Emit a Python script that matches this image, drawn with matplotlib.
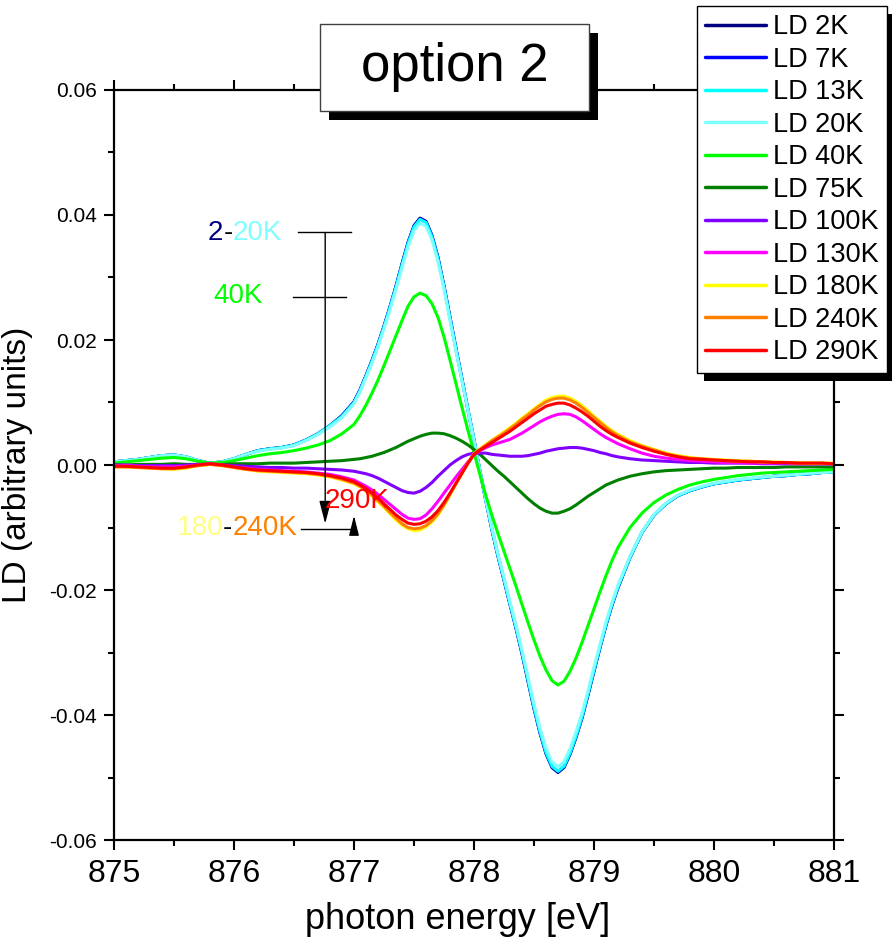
import numpy as np
import matplotlib
matplotlib.use("Agg")
import matplotlib.pyplot as plt
from matplotlib.patches import Rectangle

plt.rcParams['font.family'] = ['Liberation Sans', 'DejaVu Sans']

# ---------------- data ----------------
# photon energy [eV]: 0.1 eV steps in the tails, 0.05 eV steps across the resonance
energy = np.round(np.concatenate([np.arange(875.0, 876.95, 0.1),
                                  np.arange(877.0, 879.225, 0.05),
                                  np.arange(879.3, 881.05, 0.1)]), 2)

LD_2K = [0.0005, 0.0007, 0.0009, 0.0012, 0.0015, 0.0016, 0.0013, 0.0007, 0.0003, 0.0005,
         0.0010, 0.0017, 0.0023, 0.0026, 0.0028, 0.0032, 0.0040, 0.0050, 0.0063, 0.0079,
         0.0101, 0.0120, 0.0143, 0.0167, 0.0193, 0.0222, 0.0253, 0.0286, 0.0322, 0.0356,
         0.0383, 0.0395, 0.0390, 0.0367, 0.0332, 0.0286, 0.0236, 0.0186, 0.0137, 0.0088,
         0.0040, -0.0010, -0.0058, -0.0104, -0.0146, -0.0184, -0.0223, -0.0261, -0.0302, -0.0346,
         -0.0390, -0.0429, -0.0462, -0.0484, -0.0492, -0.0484, -0.0463, -0.0436, -0.0405, -0.0368,
         -0.0330, -0.0292, -0.0256, -0.0224, -0.0196,
         -0.0148, -0.0108, -0.0080, -0.0062, -0.0049, -0.0041, -0.0035, -0.0030, -0.0027, -0.0024,
         -0.0022, -0.0020, -0.0018, -0.0017, -0.0015, -0.0014, -0.0012, -0.0011]
LD_7K = [0.0005, 0.0007, 0.0009, 0.0012, 0.0015, 0.0016, 0.0013, 0.0007, 0.0003, 0.0005,
         0.0010, 0.0017, 0.0023, 0.0026, 0.0028, 0.0032, 0.0040, 0.0050, 0.0063, 0.0079,
         0.0101, 0.0120, 0.0143, 0.0167, 0.0193, 0.0222, 0.0253, 0.0286, 0.0321, 0.0355,
         0.0382, 0.0394, 0.0389, 0.0366, 0.0331, 0.0286, 0.0236, 0.0186, 0.0137, 0.0088,
         0.0040, -0.0010, -0.0058, -0.0104, -0.0146, -0.0184, -0.0223, -0.0261, -0.0301, -0.0345,
         -0.0389, -0.0428, -0.0461, -0.0483, -0.0491, -0.0483, -0.0462, -0.0435, -0.0404, -0.0367,
         -0.0329, -0.0292, -0.0256, -0.0224, -0.0196,
         -0.0148, -0.0108, -0.0080, -0.0062, -0.0049, -0.0041, -0.0035, -0.0030, -0.0027, -0.0024,
         -0.0022, -0.0020, -0.0018, -0.0017, -0.0015, -0.0014, -0.0012, -0.0011]
LD_13K = [0.0005, 0.0007, 0.0009, 0.0012, 0.0015, 0.0016, 0.0013, 0.0007, 0.0003, 0.0005,
          0.0010, 0.0017, 0.0023, 0.0026, 0.0028, 0.0032, 0.0040, 0.0050, 0.0063, 0.0078,
          0.0100, 0.0119, 0.0142, 0.0166, 0.0192, 0.0221, 0.0252, 0.0285, 0.0320, 0.0354,
          0.0381, 0.0393, 0.0388, 0.0365, 0.0330, 0.0285, 0.0235, 0.0185, 0.0136, 0.0088,
          0.0040, -0.0010, -0.0058, -0.0103, -0.0145, -0.0183, -0.0222, -0.0260, -0.0300, -0.0344,
          -0.0388, -0.0427, -0.0460, -0.0482, -0.0490, -0.0482, -0.0461, -0.0434, -0.0403, -0.0366,
          -0.0328, -0.0291, -0.0255, -0.0223, -0.0195,
          -0.0148, -0.0108, -0.0080, -0.0062, -0.0049, -0.0041, -0.0035, -0.0030, -0.0027, -0.0024,
          -0.0022, -0.0020, -0.0018, -0.0017, -0.0015, -0.0014, -0.0012, -0.0011]
LD_20K = [0.0005, 0.0007, 0.0009, 0.0012, 0.0015, 0.0016, 0.0013, 0.0007, 0.0003, 0.0005,
          0.0010, 0.0017, 0.0022, 0.0025, 0.0027, 0.0031, 0.0039, 0.0049, 0.0061, 0.0076,
          0.0098, 0.0117, 0.0140, 0.0163, 0.0189, 0.0218, 0.0248, 0.0281, 0.0315, 0.0349,
          0.0375, 0.0387, 0.0382, 0.0360, 0.0325, 0.0281, 0.0231, 0.0182, 0.0134, 0.0087,
          0.0039, -0.0010, -0.0057, -0.0101, -0.0143, -0.0180, -0.0219, -0.0256, -0.0296, -0.0339,
          -0.0382, -0.0421, -0.0453, -0.0475, -0.0483, -0.0475, -0.0454, -0.0427, -0.0397, -0.0361,
          -0.0323, -0.0287, -0.0251, -0.0220, -0.0192,
          -0.0146, -0.0107, -0.0079, -0.0061, -0.0048, -0.0040, -0.0034, -0.0029, -0.0026, -0.0023,
          -0.0021, -0.0019, -0.0018, -0.0016, -0.0015, -0.0013, -0.0012, -0.0011]
LD_40K = [0.0003, 0.0005, 0.0007, 0.0009, 0.0011, 0.0012, 0.0010, 0.0006, 0.0003, 0.0004,
          0.0007, 0.0011, 0.0015, 0.0018, 0.0020, 0.0023, 0.0027, 0.0032, 0.0039, 0.0050,
          0.0065, 0.0079, 0.0096, 0.0115, 0.0136, 0.0159, 0.0183, 0.0207, 0.0231, 0.0254,
          0.0269, 0.0275, 0.0271, 0.0258, 0.0236, 0.0205, 0.0168, 0.0130, 0.0092, 0.0055,
          0.0020, -0.0016, -0.0050, -0.0081, -0.0110, -0.0138, -0.0166, -0.0194, -0.0223, -0.0252,
          -0.0280, -0.0306, -0.0328, -0.0345, -0.0352, -0.0346, -0.0330, -0.0309, -0.0284, -0.0257,
          -0.0230, -0.0203, -0.0177, -0.0153, -0.0132,
          -0.0100, -0.0077, -0.0060, -0.0048, -0.0039, -0.0032, -0.0027, -0.0023, -0.0020, -0.0017,
          -0.0015, -0.0013, -0.0012, -0.0011, -0.0010, -0.0009, -0.0008, -0.0007]
LD_75K = [0.0000, 0.0000, 0.0001, 0.0001, 0.0001, 0.0002, 0.0001, 0.0001, 0.0001, 0.0001,
          0.0002, 0.0002, 0.0002, 0.0003, 0.0003, 0.0003, 0.0004, 0.0005, 0.0006, 0.0007,
          0.0009, 0.0010, 0.0012, 0.0014, 0.0017, 0.0020, 0.0024, 0.0028, 0.0033, 0.0038,
          0.0042, 0.0046, 0.0049, 0.0051, 0.0051, 0.0050, 0.0047, 0.0043, 0.0038, 0.0032,
          0.0025, 0.0017, 0.0008, -0.0001, -0.0010, -0.0018, -0.0027, -0.0036, -0.0045, -0.0054,
          -0.0062, -0.0069, -0.0074, -0.0077, -0.0077, -0.0074, -0.0070, -0.0064, -0.0057, -0.0050,
          -0.0044, -0.0038, -0.0032, -0.0028, -0.0024,
          -0.0018, -0.0014, -0.0011, -0.0009, -0.0008, -0.0007, -0.0006, -0.0005, -0.0005, -0.0004,
          -0.0004, -0.0004, -0.0004, -0.0003, -0.0003, -0.0003, -0.0003, -0.0003]
LD_100K = [0.0000, 0.0000, -0.0001, -0.0001, -0.0001, -0.0001, 0.0000, 0.0001, 0.0001, 0.0000,
           -0.0001, -0.0002, -0.0003, -0.0004, -0.0004, -0.0005, -0.0005, -0.0006, -0.0007, -0.0008,
           -0.0010, -0.0012, -0.0014, -0.0017, -0.0021, -0.0026, -0.0031, -0.0036, -0.0041, -0.0044,
           -0.0045, -0.0042, -0.0036, -0.0028, -0.0018, -0.0009, 0.0000, 0.0007, 0.0013, 0.0017,
           0.0019, 0.0019, 0.0019, 0.0017, 0.0016, 0.0015, 0.0014, 0.0014, 0.0014, 0.0015,
           0.0017, 0.0019, 0.0022, 0.0024, 0.0026, 0.0027, 0.0028, 0.0028, 0.0027, 0.0025,
           0.0023, 0.0020, 0.0018, 0.0015, 0.0013,
           0.0010, 0.0008, 0.0007, 0.0006, 0.0005, 0.0004, 0.0004, 0.0003, 0.0003, 0.0003,
           0.0003, 0.0002, 0.0002, 0.0002, 0.0002, 0.0002, 0.0002, 0.0002]
LD_130K = [-0.0001, -0.0001, -0.0002, -0.0003, -0.0003, -0.0003, -0.0002, 0.0000, 0.0002, 0.0000,
           -0.0003, -0.0005, -0.0007, -0.0008, -0.0009, -0.0010, -0.0011, -0.0013, -0.0015, -0.0019,
           -0.0024, -0.0029, -0.0034, -0.0040, -0.0047, -0.0055, -0.0063, -0.0071, -0.0079, -0.0085,
           -0.0087, -0.0086, -0.0080, -0.0070, -0.0058, -0.0045, -0.0032, -0.0019, -0.0007, 0.0005,
           0.0016, 0.0023, 0.0028, 0.0032, 0.0035, 0.0038, 0.0041, 0.0046, 0.0051, 0.0057,
           0.0063, 0.0069, 0.0074, 0.0078, 0.0081, 0.0082, 0.0081, 0.0077, 0.0071, 0.0064,
           0.0057, 0.0050, 0.0044, 0.0039, 0.0034,
           0.0026, 0.0019, 0.0014, 0.0011, 0.0009, 0.0007, 0.0006, 0.0005, 0.0004, 0.0004,
           0.0003, 0.0003, 0.0003, 0.0003, 0.0002, 0.0002, 0.0002, 0.0002]
LD_180K = [-0.0003, -0.0003, -0.0004, -0.0005, -0.0006, -0.0007, -0.0005, -0.0001, 0.0001, -0.0001,
           -0.0004, -0.0007, -0.0010, -0.0011, -0.0012, -0.0013, -0.0014, -0.0016, -0.0019, -0.0024,
           -0.0030, -0.0035, -0.0042, -0.0050, -0.0059, -0.0068, -0.0078, -0.0088, -0.0096, -0.0102,
           -0.0105, -0.0104, -0.0099, -0.0091, -0.0080, -0.0065, -0.0048, -0.0030, -0.0013, 0.0003,
           0.0018, 0.0026, 0.0033, 0.0040, 0.0046, 0.0053, 0.0060, 0.0067, 0.0075, 0.0082,
           0.0090, 0.0097, 0.0104, 0.0108, 0.0110, 0.0110, 0.0107, 0.0102, 0.0095, 0.0087,
           0.0078, 0.0070, 0.0062, 0.0055, 0.0049,
           0.0039, 0.0031, 0.0025, 0.0019, 0.0015, 0.0012, 0.0010, 0.0009, 0.0008, 0.0007,
           0.0006, 0.0005, 0.0005, 0.0004, 0.0004, 0.0003, 0.0003, 0.0003]
LD_240K = [-0.0003, -0.0003, -0.0004, -0.0005, -0.0006, -0.0006, -0.0004, -0.0001, 0.0001, -0.0001,
           -0.0004, -0.0007, -0.0009, -0.0010, -0.0011, -0.0012, -0.0013, -0.0015, -0.0018, -0.0023,
           -0.0029, -0.0034, -0.0041, -0.0048, -0.0057, -0.0066, -0.0076, -0.0085, -0.0094, -0.0100,
           -0.0102, -0.0101, -0.0097, -0.0089, -0.0078, -0.0064, -0.0047, -0.0030, -0.0013, 0.0003,
           0.0018, 0.0025, 0.0032, 0.0039, 0.0045, 0.0051, 0.0058, 0.0065, 0.0073, 0.0080,
           0.0088, 0.0095, 0.0101, 0.0105, 0.0107, 0.0107, 0.0104, 0.0099, 0.0092, 0.0084,
           0.0076, 0.0068, 0.0060, 0.0053, 0.0047,
           0.0037, 0.0030, 0.0024, 0.0018, 0.0014, 0.0011, 0.0010, 0.0008, 0.0007, 0.0006,
           0.0006, 0.0005, 0.0004, 0.0004, 0.0003, 0.0003, 0.0003, 0.0002]
LD_290K = [-0.0002, -0.0002, -0.0003, -0.0004, -0.0005, -0.0005, -0.0003, 0.0000, 0.0002, 0.0000,
           -0.0003, -0.0006, -0.0008, -0.0009, -0.0010, -0.0011, -0.0012, -0.0014, -0.0017, -0.0021,
           -0.0027, -0.0032, -0.0038, -0.0045, -0.0053, -0.0062, -0.0071, -0.0080, -0.0087, -0.0093,
           -0.0095, -0.0094, -0.0090, -0.0083, -0.0073, -0.0060, -0.0045, -0.0029, -0.0013, 0.0003,
           0.0017, 0.0024, 0.0030, 0.0036, 0.0042, 0.0048, 0.0054, 0.0061, 0.0068, 0.0075,
           0.0082, 0.0088, 0.0094, 0.0097, 0.0099, 0.0099, 0.0096, 0.0091, 0.0085, 0.0078,
           0.0070, 0.0062, 0.0055, 0.0049, 0.0044,
           0.0035, 0.0028, 0.0022, 0.0017, 0.0013, 0.0010, 0.0009, 0.0008, 0.0007, 0.0006,
           0.0005, 0.0005, 0.0004, 0.0004, 0.0003, 0.0003, 0.0003, 0.0002]

labels = ["LD 2K", "LD 7K", "LD 13K", "LD 20K", "LD 40K", "LD 75K",
          "LD 100K", "LD 130K", "LD 180K", "LD 240K", "LD 290K"]
values = [LD_2K, LD_7K, LD_13K, LD_20K, LD_40K, LD_75K,
          LD_100K, LD_130K, LD_180K, LD_240K, LD_290K]
colors = ["#000080", "#0000FF", "#00FFFF", "#80FFFF", "#00FF00", "#008000",
          "#8000FF", "#FF00FF", "#FFFF00", "#FF8000", "#FF0000"]

x_ticks = [875, 876, 877, 878, 879, 880, 881]
y_ticks = [-0.06, -0.04, -0.02, 0.00, 0.02, 0.04, 0.06]
y_tick_labels = ["-0.06", "-0.04", "-0.02", "0.00", "0.02", "0.04", "0.06"]

# ---------------- figure ----------------
W, H = 892, 947
fig = plt.figure(figsize=(W / 100, H / 100), dpi=100)
fig.patch.set_facecolor("white")
ax = fig.add_axes([114 / W, 1 - 840 / H, 720 / W, 750 / H])

handles = []
for lab, vals, col in zip(labels, values, colors):
    h, = ax.plot(energy, vals, color=col, lw=2.2, label=lab,
                 solid_capstyle='round', solid_joinstyle='round')
    handles.append(h)

ax.set_xlim(875, 881)
ax.set_ylim(-0.06, 0.06)
ax.set_xticks(x_ticks)
ax.set_xticklabels([str(t) for t in x_ticks])
ax.set_xticks([875.5, 876.5, 877.5, 878.5, 879.5, 880.5], minor=True)
ax.set_yticks(y_ticks)
ax.set_yticklabels(y_tick_labels)
ax.set_yticks([-0.05, -0.03, -0.01, 0.01, 0.03, 0.05], minor=True)

for s in ax.spines.values():
    s.set_linewidth(1.6)
ax.tick_params(which='both', direction='out', top=True, right=True, width=1.5)
ax.tick_params(which='major', length=7.5)
ax.tick_params(which='minor', length=4.5)
ax.tick_params(axis='x', which='major', labelsize=23, pad=6)
ax.tick_params(axis='y', which='major', labelsize=15, pad=5)

ax.set_xlabel("photon energy [eV]", fontsize=26)
ax.set_ylabel("LD (arbitrary units)", fontsize=24)
ax.xaxis.set_label_coords(0.477, -0.083)
ax.yaxis.set_label_coords(-0.112, 0.5)

# ---------------- annotations ----------------
fs_ann = 20
y_a, y_b = 0.0372, 0.0269
ax.plot([876.53, 876.975], [y_a, y_a], color='black', lw=1.0)
ax.plot([876.49, 876.93], [y_b, y_b], color='black', lw=1.0)
ax.annotate("", xy=(876.76, -0.0094), xytext=(876.76, y_a),
            arrowprops=dict(arrowstyle='-|>,head_length=0.7,head_width=0.18',
                            color='black', lw=1.0, shrinkA=0, shrinkB=0, mutation_scale=20))
y_c = -0.0102
ax.plot([876.56, 877.0], [y_c, y_c], color='black', lw=1.0)
ax.annotate("", xy=(877.0, -0.0081), xytext=(877.0, y_c),
            arrowprops=dict(arrowstyle='-|>,head_length=0.6,head_width=0.15',
                            color='black', lw=1.0, shrinkA=0, shrinkB=0, mutation_scale=20))

t3 = ax.text(876.40, 0.0372, "20K", color="#80FFFF", fontsize=fs_ann, ha='right', va='center')
t2 = ax.annotate("-", xy=(0, 0), xycoords=t3, color="black", fontsize=fs_ann, ha='right', va='bottom')
t1 = ax.annotate("2", xy=(0, 0), xycoords=t2, color="#000080", fontsize=fs_ann, ha='right', va='bottom')

ax.text(876.24, 0.0270, "40K", color="#00FF00", fontsize=fs_ann, ha='right', va='center')
ax.text(876.755, -0.0058, "290K", color="#FF0000", fontsize=fs_ann, ha='left', va='center')

u3 = ax.text(876.525, -0.0101, "240K", color="#FF8000", fontsize=fs_ann, ha='right', va='center')
u2 = ax.annotate("-", xy=(0, 0), xycoords=u3, color="black", fontsize=fs_ann, ha='right', va='bottom')
u1 = ax.annotate("180", xy=(0, 0), xycoords=u2, color="#FFFF80", fontsize=fs_ann, ha='right', va='bottom')

# ---------------- legend ----------------
leg = fig.legend(handles, labels, loc='upper right', bbox_to_anchor=(887 / W, 1 - 6 / H),
                 bbox_transform=fig.transFigure, frameon=True, fancybox=False,
                 edgecolor='black', framealpha=1, fontsize=19.5, handlelength=2.25,
                 handletextpad=0.26, labelspacing=0.24, borderpad=0.3, borderaxespad=0)
leg.get_frame().set_linewidth(1.0)
leg.set_zorder(10)
for ln in leg.get_lines():
    ln.set_linewidth(2.5)

# title box
fig.add_artist(Rectangle((328.5 / W, 1 - 120 / H), 269 / W, 87 / H, transform=fig.transFigure,
                         facecolor='black', edgecolor='black', lw=0, zorder=7))
fig.add_artist(Rectangle((320 / W, 1 - 111 / H), 269 / W, 87 / H, transform=fig.transFigure,
                         facecolor='white', edgecolor='#404040', lw=1.0, zorder=8))
fig.text(455 / W, 1 - 67 / H, "option 2", fontsize=38, ha='center', va='center', zorder=9)

# legend shadow
fig.canvas.draw()
renderer = fig.canvas.get_renderer()
bb = leg.get_frame().get_window_extent(renderer)
inv = fig.transFigure.inverted()
(x0, y0), (x1, y1) = inv.transform([[bb.x0 + 7, bb.y0 - 8], [bb.x1 + 7, bb.y1 - 8]])
fig.add_artist(Rectangle((x0, y0), x1 - x0, y1 - y0, transform=fig.transFigure,
                         facecolor='black', edgecolor='black', lw=0, zorder=9))

fig.savefig("out.png", dpi=100, facecolor='white')
